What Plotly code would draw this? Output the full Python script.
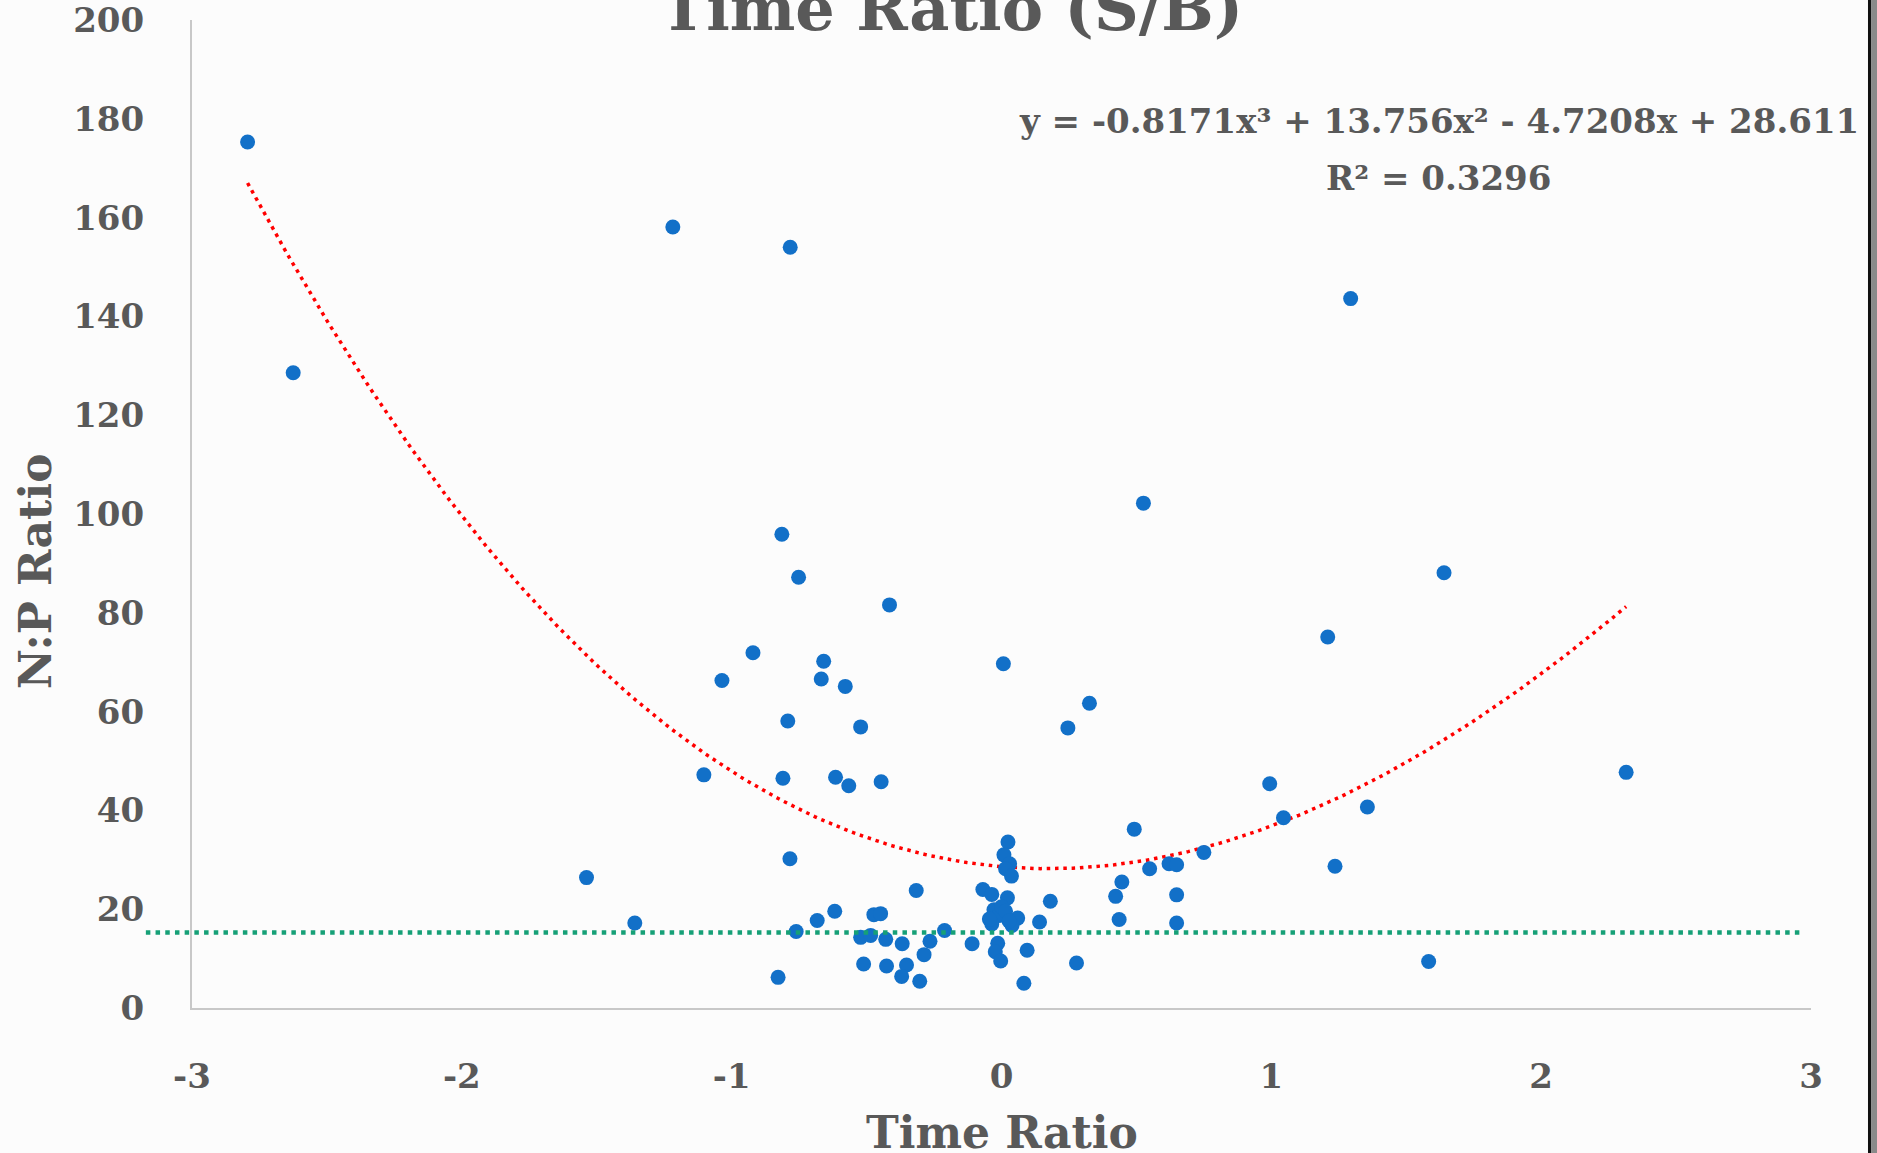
import numpy as np
import plotly.graph_objects as go

# ---- data ----
time_ratio = [
    -2.794, -2.625, -1.218, -0.783, 1.294, 0.526, 1.640, -0.814, -0.752, -0.415,
    1.209, -0.921, 0.007, -0.659, -1.036, -0.668, -0.579, -0.792, -0.522, 0.326,
    0.246, 2.315, -1.103, -0.810, -0.615, -0.566, -0.446, 0.994, 1.356, 1.045,
    0.492, 0.750, -0.784, 1.236, -1.538,
    0.024, 0.009, 0.030, 0.015, 0.037,
    0.549, 0.621, 0.649, 0.446, 0.423, 0.649, 0.436, 0.649,
    -0.316, -0.069, -0.036, 0.022, 0.181,
    -0.028, -0.011, 0.060, -0.036, 0.039, 0.141,
    0.000, 0.015, -0.045, 0.028,
    -0.683, -0.618, -0.761, -0.473, -0.448, -1.359,
    -0.522, -0.485, -0.429, -0.368, -0.265, -0.211, -0.287,
    -0.511, -0.426, -0.352, -0.370, -0.303, -0.828, -0.109,
    -0.014, -0.023, -0.003, 0.095, 0.083, 0.278, 1.583,
]
np_ratio = [
    175.3, 128.6, 158.1, 154.0, 143.6, 102.2, 88.1, 95.9, 87.2, 81.6,
    75.1, 71.9, 69.7, 70.2, 66.3, 66.6, 65.1, 58.1, 56.9, 61.7,
    56.7, 47.7, 47.2, 46.5, 46.7, 45.0, 45.8, 45.4, 40.7, 38.5,
    36.2, 31.5, 30.2, 28.7, 26.4,
    33.6, 31.0, 29.2, 28.2, 26.7,
    28.2, 29.2, 29.0, 25.5, 22.6, 22.9, 17.9, 17.2,
    23.8, 24.0, 23.0, 22.3, 21.6,
    19.9, 18.7, 18.2, 17.0, 16.7, 17.4,
    20.5, 19.6, 18.0, 17.6,
    17.7, 19.6, 15.5, 18.9, 19.1, 17.2,
    14.3, 14.7, 13.9, 13.0, 13.5, 15.7, 10.8,
    8.9, 8.5, 8.7, 6.4, 5.4, 6.2, 13.0,
    13.1, 11.4, 9.5, 11.7, 5.0, 9.1, 9.4,
]

# polynomial trendline coefficients (as printed on the chart)
poly_coef = [-0.8171, 13.756, -4.7208, 28.611]
r_squared = 0.3296
redfield_level = 15.3

x_ticks = [-3, -2, -1, 0, 1, 2, 3]
y_ticks = [0, 20, 40, 60, 80, 100, 120, 140, 160, 180, 200]

# ---- styling ----
GRAY = "#595959"
FONT = "DejaVu Serif"

trend_x = np.linspace(min(time_ratio), max(time_ratio), 300)
trend_y = np.polyval(poly_coef, trend_x)

fig = go.Figure()
fig.add_trace(go.Scatter(
    x=trend_x, y=trend_y, mode="lines",
    line=dict(color="#FF0000", width=3.5, dash="3.5px,4.8px"),
    hoverinfo="skip", showlegend=False,
))
fig.add_trace(go.Scatter(
    x=time_ratio, y=np_ratio, mode="markers",
    marker=dict(color="#1270C8", size=15, line=dict(width=0)),
    showlegend=False, cliponaxis=False,
))

# Redfield threshold line (extends slightly left of the y axis)
fig.add_shape(type="line", xref="paper", yref="y",
              x0=-0.0285, x1=0.9950, y0=redfield_level, y1=redfield_level,
              line=dict(color="#16A077", width=4.5, dash="4.5px,5.2px"))

# dark right border of the slide
fig.add_shape(type="rect", xref="paper", yref="paper",
              x0=1.0352, x1=1.0371, y0=-0.3, y1=1.2,
              line=dict(width=0), fillcolor="#111111")
fig.add_shape(type="rect", xref="paper", yref="paper",
              x0=1.0371, x1=1.045, y0=-0.3, y1=1.2,
              line=dict(width=0), fillcolor="#8a8a8a")

sign = lambda v: "-" if v < 0 else "+"
eq = (f"y = {poly_coef[0]}x³ {sign(poly_coef[1])} {abs(poly_coef[1])}x² "
      f"{sign(poly_coef[2])} {abs(poly_coef[2])}x {sign(poly_coef[3])} {abs(poly_coef[3])}")

annos = [
    dict(text="Time Ratio (S/B)", x=0.4690, y=1.012, size=62),
    dict(text=eq, x=0.770, y=0.898, size=34),
    dict(text=f"R² = {r_squared}", x=0.770, y=0.840, size=34),
    dict(text="Time Ratio", x=0.5, y=-0.126, size=44),
]
for a in annos:
    fig.add_annotation(text=a["text"], xref="paper", yref="paper", x=a["x"], y=a["y"],
                       xanchor="center", yanchor="middle", showarrow=False,
                       font=dict(family=FONT, size=a["size"], color=GRAY, weight="bold"))
fig.add_annotation(text="N:P Ratio", xref="paper", yref="paper", x=-0.097, y=0.442,
                   xanchor="center", yanchor="middle", showarrow=False, textangle=-90,
                   font=dict(family=FONT, size=44, color=GRAY, weight="bold"))

axis_common = dict(
    showgrid=False, zeroline=False, showline=True, linecolor="#C8C8C8", linewidth=2,
    ticks="", automargin=False, ticklabeloverflow="allow",
    tickfont=dict(family=FONT, size=34, color=GRAY, weight="bold"),
)
fig.update_xaxes(range=[-3, 3], tickvals=x_ticks, ticktext=[str(v) for v in x_ticks],
                 ticklabelstandoff=37, **axis_common)
fig.update_yaxes(range=[0, 200], tickvals=y_ticks, ticktext=[str(v) for v in y_ticks],
                 ticklabelstandoff=39, **axis_common)

fig.update_layout(
    width=1877, height=1153,
    margin=dict(l=192, r=66, t=20, b=145, autoexpand=False),
    paper_bgcolor="#FCFCFC", plot_bgcolor="#FCFCFC",
    showlegend=False,
)

fig.write_html("out.html")
